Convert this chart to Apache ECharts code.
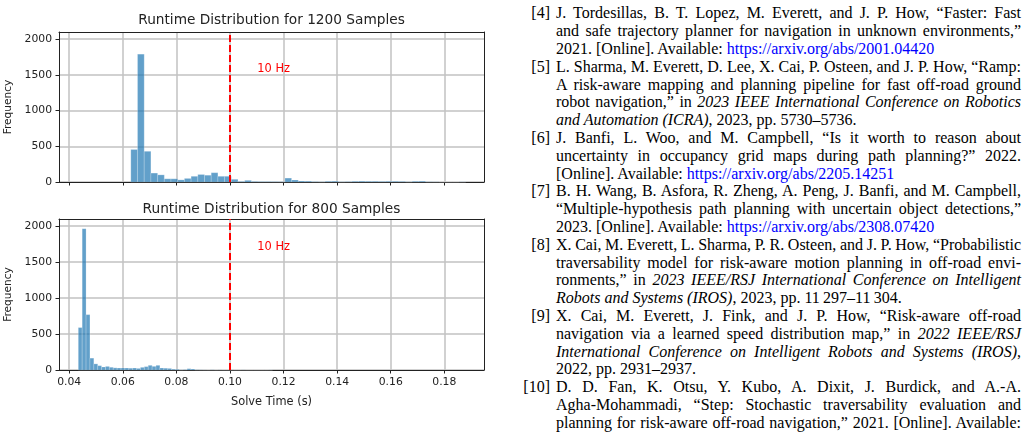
<!DOCTYPE html>
<html><head><meta charset="utf-8">
<script src="https://cdn.jsdelivr.net/npm/echarts@6/dist/echarts.min.js"></script>
<style>
html,body{margin:0;padding:0;background:#fff;width:1029px;height:433px;overflow:hidden;}
#chart{position:absolute;left:0;top:0;width:520px;height:433px;}
#refs{position:absolute;left:556px;top:4.4px;width:465px;font-family:"Liberation Serif","Times New Roman",serif;font-size:16px;color:#000;}
.l{height:17.8px;line-height:17.8px;position:relative;white-space:nowrap;}
.lab{position:absolute;right:471px;top:0;}
a{color:#0000ff;text-decoration:none;}
</style></head>
<body>
<div id="chart"></div>
<div id="refs">
<div class="l"><span class="lab">[4]</span><span class="b">J. Tordesillas, B. T. Lopez, M. Everett, and J. P. How, “Faster: Fast</span></div>
<div class="l"><span class="b">and safe trajectory planner for navigation in unknown environments,”</span></div>
<div class="l e"><span class="b">2021. [Online]. Available: <a>https://arxiv.org/abs/2001.04420</a></span></div>
<div class="l"><span class="lab">[5]</span><span class="b">L. Sharma, M. Everett, D. Lee, X. Cai, P. Osteen, and J. P. How, “Ramp:</span></div>
<div class="l"><span class="b">A risk-aware mapping and planning pipeline for fast off-road ground</span></div>
<div class="l"><span class="b">robot navigation,” in <i>2023 IEEE International Conference on Robotics</i></span></div>
<div class="l e"><span class="b"><i>and Automation (ICRA)</i>, 2023, pp. 5730–5736.</span></div>
<div class="l"><span class="lab">[6]</span><span class="b">J. Banfi, L. Woo, and M. Campbell, “Is it worth to reason about</span></div>
<div class="l"><span class="b">uncertainty in occupancy grid maps during path planning?” 2022.</span></div>
<div class="l e"><span class="b">[Online]. Available: <a>https://arxiv.org/abs/2205.14251</a></span></div>
<div class="l"><span class="lab">[7]</span><span class="b">B. H. Wang, B. Asfora, R. Zheng, A. Peng, J. Banfi, and M. Campbell,</span></div>
<div class="l"><span class="b">“Multiple-hypothesis path planning with uncertain object detections,”</span></div>
<div class="l e"><span class="b">2023. [Online]. Available: <a>https://arxiv.org/abs/2308.07420</a></span></div>
<div class="l"><span class="lab">[8]</span><span class="b">X. Cai, M. Everett, L. Sharma, P. R. Osteen, and J. P. How, “Probabilistic</span></div>
<div class="l"><span class="b">traversability model for risk-aware motion planning in off-road envi-</span></div>
<div class="l"><span class="b">ronments,” in <i>2023 IEEE/RSJ International Conference on Intelligent</i></span></div>
<div class="l e"><span class="b"><i>Robots and Systems (IROS)</i>, 2023, pp. 11&#8201;297–11&#8201;304.</span></div>
<div class="l"><span class="lab">[9]</span><span class="b">X. Cai, M. Everett, J. Fink, and J. P. How, “Risk-aware off-road</span></div>
<div class="l"><span class="b">navigation via a learned speed distribution map,” in <i>2022 IEEE/RSJ</i></span></div>
<div class="l"><span class="b"><i>International Conference on Intelligent Robots and Systems (IROS)</i>,</span></div>
<div class="l e"><span class="b">2022, pp. 2931–2937.</span></div>
<div class="l"><span class="lab">[10]</span><span class="b">D. D. Fan, K. Otsu, Y. Kubo, A. Dixit, J. Burdick, and A.-A.</span></div>
<div class="l"><span class="b">Agha-Mohammadi, “Step: Stochastic traversability evaluation and</span></div>
<div class="l"><span class="b">planning for risk-aware off-road navigation,” 2021. [Online]. Available:</span></div>
</div>
<script>
// justify each non-final line by adjusting word spacing
(function () {
  const W = 465;
  document.querySelectorAll('#refs .l').forEach(div => {
    if (div.classList.contains('e')) return;
    const b = div.querySelector('.b');
    const w = b.getBoundingClientRect().width;
    const n = (b.textContent.match(/ /g) || []).length;
    if (n > 0) b.style.wordSpacing = ((W - w) / n) + 'px';
  });
})();

// ---- data ----
const titles = ['Runtime Distribution for 1200 Samples', 'Runtime Distribution for 800 Samples'];
const xTicks = [0.04, 0.06, 0.08, 0.10, 0.12, 0.14, 0.16, 0.18];
const yTicks = [0, 500, 1000, 1500, 2000];
const topBinStart = 0.0630;
const topBinWidth = 0.0025;
const topCounts = [455, 1790, 430, 125, 100, 45, 45, 30, 50, 80,
                   105, 95, 130, 80, 80, 38, 8, 23, 8, 6,
                   6, 5, 4, 55, 28, 14, 12, 5, 3, 10,
                   12, 3, 5, 10, 12, 10, 10, 8, 10, 10,
                   8, 3, 10, 12, 3, 2, 0, 0, 0, 2];
const botBinStart = 0.0434;
const botBinWidth = 0.00145;
const botCounts = [590, 1965, 770, 165, 85, 60, 42, 50, 38, 30,
                   28, 28, 28, 25, 28, 22, 37, 47, 65, 51,
                   65, 28, 25, 22, 12, 10, 2, 5, 18, 14,
                   3, 2, 1, 0, 2, 0, 1, 0, 0, 1,
                   0, 0, 1, 0, 0, 0, 0, 0, 0, 1];
const thresholdX = [0.10];
const thresholdLabel = '10 Hz';

// ---- chart ----
const X_MIN = 0.0362, X_MAX = 0.1948, Y_MAX = 2100;
const TXT = '#222';
const GRIDC = '#c2c2c2';
function hist(start, width, counts) {
  return counts.map((c, i) => [start + i * width, start + (i + 1) * width, c]);
}
function histSeries(k, data, labelY) {
  return {
    type: 'custom', xAxisIndex: 2 * k, yAxisIndex: 2 * k, z: 3,
    data: data, encode: { x: [0, 1], y: 2 },
    renderItem: function (params, api) {
      const p0 = api.coord([api.value(0), api.value(2)]);
      const p1 = api.coord([api.value(1), 0]);
      return { type: 'rect',
        shape: { x: p0[0], y: p0[1], width: p1[0] - p0[0], height: p1[1] - p0[1] },
        style: { fill: 'rgba(31,119,180,0.7)', stroke: 'rgba(255,255,255,0.35)', lineWidth: 0.6 } };
    },
    markLine: { silent: true, symbol: 'none', animation: false,
      lineStyle: { color: '#ff0000', width: 2, type: [7, 3] }, label: { show: false },
      data: thresholdX.map(v => ({ xAxis: v })) },
    markPoint: { silent: true, animation: false, symbol: 'circle', symbolSize: 0.01,
      itemStyle: { color: 'rgba(0,0,0,0)' },
      label: { show: true, position: 'right', distance: 0, formatter: thresholdLabel,
        color: '#ff0000', fontSize: 11.4, fontFamily: 'DejaVu Sans' },
      data: [{ coord: [0.1102, labelY] }] }
  };
}
function xAxisMain(k, showLabels) {
  return {
    type: 'value', gridIndex: k, position: 'bottom', min: X_MIN, max: X_MAX,
    axisLine: { show: true, onZero: false, lineStyle: { color: TXT, width: 1 } },
    axisTick: { show: true, length: 3.5, customValues: xTicks, lineStyle: { color: TXT } },
    axisLabel: { show: showLabels, customValues: xTicks, margin: 6.5, color: TXT, fontSize: 10.8,
      fontFamily: 'DejaVu Sans', formatter: v => v.toFixed(2) },
    splitLine: { show: true, lineStyle: { color: GRIDC, width: 1.5 } },
    name: showLabels ? 'Solve Time (s)' : '', nameLocation: 'middle', nameGap: 27,
    nameTextStyle: { color: TXT, fontSize: 11.4, fontFamily: 'DejaVu Sans' }
  };
}
function xAxisTop(k) {
  return {
    type: 'value', gridIndex: k, position: 'top', min: X_MIN, max: X_MAX,
    axisLine: { show: true, onZero: false, lineStyle: { color: TXT, width: 1 } },
    axisTick: { show: false }, axisLabel: { show: false }, splitLine: { show: false }
  };
}
function yAxisMain(k) {
  return {
    type: 'value', gridIndex: k, position: 'left', min: 0, max: Y_MAX,
    axisLine: { show: true, onZero: false, lineStyle: { color: TXT, width: 1 } },
    axisTick: { show: true, length: 3.5, customValues: yTicks, lineStyle: { color: TXT } },
    axisLabel: { customValues: yTicks, margin: 7, color: TXT, fontSize: 10.8, fontFamily: 'DejaVu Sans',
      formatter: v => String(v) },
    splitLine: { show: true, lineStyle: { color: GRIDC, width: 1.5 } },
    name: 'Frequency', nameLocation: 'middle', nameGap: 33,
    nameTextStyle: { color: TXT, fontSize: 10.6, fontFamily: 'DejaVu Sans' }
  };
}
function yAxisRight(k) {
  return {
    type: 'value', gridIndex: k, position: 'right', min: 0, max: Y_MAX,
    axisLine: { show: true, onZero: false, lineStyle: { color: TXT, width: 1 } },
    axisTick: { show: false }, axisLabel: { show: false }, splitLine: { show: false }
  };
}
const chart = echarts.init(document.getElementById('chart'), null, { renderer: 'canvas' });
chart.setOption({
  animation: false,
  backgroundColor: '#fff',
  textStyle: { fontFamily: 'DejaVu Sans' },
  title: [
    { text: titles[0], left: 271.5, top: 13, textAlign: 'center', padding: 0,
      textStyle: { fontSize: 13.7, fontWeight: 'normal', color: TXT, fontFamily: 'DejaVu Sans' } },
    { text: titles[1], left: 271.5, top: 202, textAlign: 'center', padding: 0,
      textStyle: { fontSize: 13.7, fontWeight: 'normal', color: TXT, fontFamily: 'DejaVu Sans' } }
  ],
  grid: [
    { left: 59, top: 32, width: 425, height: 150, containLabel: false, outerBoundsMode: 'none' },
    { left: 59, top: 219, width: 425, height: 151, containLabel: false, outerBoundsMode: 'none' }
  ],
  xAxis: [xAxisMain(0, false), xAxisTop(0), xAxisMain(1, true), xAxisTop(1)],
  yAxis: [yAxisMain(0), yAxisRight(0), yAxisMain(1), yAxisRight(1)],
  series: [
    histSeries(0, hist(topBinStart, topBinWidth, topCounts), 1575),
    histSeries(1, hist(botBinStart, botBinWidth, botCounts), 1715)
  ]
});
</script>
</body></html>
